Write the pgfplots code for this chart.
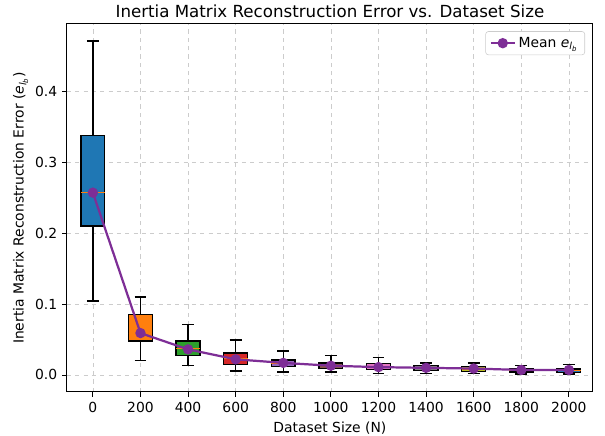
\documentclass[border=0pt]{standalone}
\usepackage{pgfplots}
\pgfplotsset{compat=1.18}
\usepackage{fontspec}
\setmainfont{DejaVu Sans}

\definecolor{tabblue}{HTML}{1F77B4}
\definecolor{taborange}{HTML}{FF7F0E}
\definecolor{tabgreen}{HTML}{2CA02C}
\definecolor{tabred}{HTML}{D62728}
\definecolor{tabpurple}{HTML}{9467BD}
\definecolor{tabbrown}{HTML}{8C564B}
\definecolor{tabpink}{HTML}{E377C2}
\definecolor{tabgray}{HTML}{7F7F7F}
\definecolor{tabolive}{HTML}{BCBD22}
\definecolor{tabcyan}{HTML}{17BECF}
\definecolor{meanline}{HTML}{7E2E96}

\newcommand{\elb}{\textit{e}\textsubscript{\textit{l}\textsubscript{\textit{b}}}}

% box: position, lower whisker, lower quartile, median, upper quartile, upper whisker, colour
\newcommand{\bx}[7]{%
  \pgfmathsetmacro\boxL{#1-50}\pgfmathsetmacro\boxR{#1+50}%
  \pgfmathsetmacro\capL{#1-25}\pgfmathsetmacro\capR{#1+25}%
  \addplot[forget plot, solid, black, line width=1pt] coordinates {(#1,#2) (#1,#3)};
  \addplot[forget plot, solid, black, line width=1pt] coordinates {(#1,#5) (#1,#6)};
  \addplot[forget plot, solid, black, line width=1pt] coordinates {(\capL,#2) (\capR,#2)};
  \addplot[forget plot, solid, black, line width=1pt] coordinates {(\capL,#6) (\capR,#6)};
  \addplot[forget plot, solid, draw=black, fill=#7, line width=1pt] coordinates
    {(\boxL,#3) (\boxR,#3) (\boxR,#5) (\boxL,#5)} -- cycle;
  \addplot[forget plot, solid, taborange, line width=0.8pt] coordinates {(\boxL,#4) (\boxR,#4)};
}

\begin{document}
\begin{tikzpicture}
% fix the page to the reference's size (pt)
\path[use as bounding box] (-48.2pt,-31.7pt) rectangle (387.4pt,282.2pt);
\begin{axis}[
    at={(0,0)}, anchor=south west,
    scale only axis, width=378.7pt, height=265pt,
    font=\fontsize{10}{12}\selectfont,
    title={Inertia Matrix Reconstruction Error vs. Dataset Size},
    title style={font=\fontsize{12}{14}\selectfont, yshift=-5pt},
    xlabel={Dataset Size (N)},
    ylabel={Inertia Matrix Reconstruction Error (\elb)},
    ylabel style={yshift=-2pt},
    xmin=-109, xmax=2101,
    ymin=-0.024, ymax=0.495,
    xtick={0,200,...,2000},
    ytick={0,0.1,0.2,0.3,0.4},
    xticklabel style={/pgf/number format/1000 sep={}},
    yticklabel style={/pgf/number format/.cd, fixed, fixed zerofill, precision=1},
    /pgf/number format/assume math mode=true,
    scaled y ticks=false,
    tick align=outside, tick pos=left,
    major tick length=3.5pt,
    every tick/.style={black, line width=0.6pt},
    grid=major,
    major grid style={dashed, gray!40, line width=0.5pt},
    axis line style={line width=0.7pt},
    legend style={at={(0.985,0.98)}, anchor=north east, draw=gray!40,
        rounded corners=2pt, font=\fontsize{10}{12}\selectfont},
    legend cell align=left,
]
\bx{0}{0.104}{0.210}{0.257}{0.338}{0.471}{tabblue}
\bx{200}{0.020}{0.048}{0.058}{0.085}{0.110}{taborange}
\bx{400}{0.013}{0.027}{0.037}{0.048}{0.071}{tabgreen}
\bx{600}{0.0056}{0.0145}{0.023}{0.031}{0.049}{tabred}
\bx{800}{0.004}{0.012}{0.016}{0.021}{0.034}{tabpurple}
\bx{1000}{0.004}{0.009}{0.013}{0.017}{0.027}{tabbrown}
\bx{1200}{0.0024}{0.008}{0.011}{0.016}{0.025}{tabpink}
\bx{1400}{0.0024}{0.006}{0.009}{0.013}{0.017}{tabgray}
\bx{1600}{0.002}{0.0047}{0.008}{0.012}{0.017}{tabolive}
\bx{1800}{0.0014}{0.004}{0.006}{0.009}{0.013}{tabcyan}
\bx{2000}{0.0014}{0.0032}{0.006}{0.0085}{0.015}{tabblue}

\addplot[meanline, solid, line width=1.6pt, mark=*, mark size=2.9pt,
    mark options={solid, fill=meanline, draw=meanline}] coordinates {
    (0,0.257) (200,0.059) (400,0.036) (600,0.022) (800,0.017) (1000,0.013)
    (1200,0.011) (1400,0.010) (1600,0.009) (1800,0.007) (2000,0.007)
};
\addlegendentry{Mean \elb}
\end{axis}
\end{tikzpicture}
\end{document}
